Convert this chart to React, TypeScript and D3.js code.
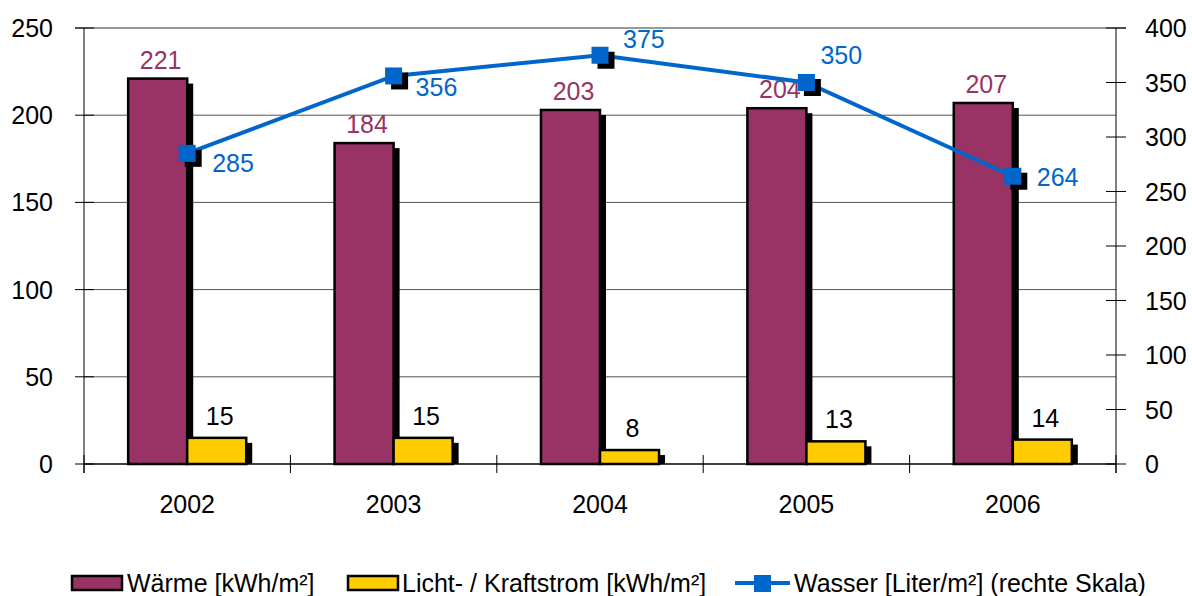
import React from "react";
import * as d3 from "d3";

const years = ["2002", "2003", "2004", "2005", "2006"];
const waerme = [221, 184, 203, 204, 207];
const licht = [15, 15, 8, 13, 14];
const wasser = [285, 356, 375, 350, 264];
const leftTicks = [0, 50, 100, 150, 200, 250];
const rightTicks = [0, 50, 100, 150, 200, 250, 300, 350, 400];
const legendLabels = ["Wärme [kWh/m²]", "Licht- / Kraftstrom [kWh/m²]", "Wasser [Liter/m²] (rechte Skala)"];
// label placement for water values (style only)
const wasserLabelOffsets: [number, number][] = [
  [25, 19],
  [22, 20],
  [23, -7],
  [14, -19],
  [24, 10],
];

const W = 1192;
const H = 596;
const L = 84, R = 1116, T = 28, B = 464;
const FONT = "'Liberation Sans', Arial, sans-serif";
const FS = 25;
const C_W = "#993366";
const C_L = "#FFCC00";
const C_B = "#0066CC";

export default function App() {
  const x = d3.scaleBand<string>().domain(years).range([L, R]).padding(0);
  const yL = d3.scaleLinear().domain([0, 250]).range([B, T]);
  const yR = d3.scaleLinear().domain([0, 400]).range([B, T]);
  const bw = x.bandwidth() * 0.286;
  const cx = (d: string) => (x(d) as number) + x.bandwidth() / 2;
  const sh = { dx: 6, dy: 5 };

  const line = d3
    .line<number>()
    .x((_, i) => cx(years[i]))
    .y((v) => yR(v));

  const bars = (vals: number[], side: number, color: string) =>
    vals.map((v, i) => {
      const x0 = side === 0 ? cx(years[i]) - bw : cx(years[i]);
      const y0 = yL(v);
      return (
        <g key={i}>
          <rect x={x0 + sh.dx} y={y0 + sh.dy} width={bw} height={Math.max(0, B - y0 - sh.dy)} fill="#000" />
          <rect x={x0} y={y0} width={bw} height={B - y0} fill={color} stroke="#000" strokeWidth={2.5} />
        </g>
      );
    });

  return (
    <svg width={W} height={H} style={{ position: "absolute", left: 0, top: 0, background: "#fff" }} fontFamily={FONT}>
      {/* gridlines */}
      {leftTicks.filter((t) => t > 0 && t < 250).map((t) => (
        <line key={t} x1={L} x2={R} y1={yL(t)} y2={yL(t)} stroke="#555" strokeWidth={1} />
      ))}
      <line x1={L - 9} x2={R + 10} y1={yL(250)} y2={yL(250)} stroke="#999" strokeWidth={2} />
      {/* left axis */}
      <line x1={L} x2={L} y1={T} y2={B + 9} stroke="#000" strokeWidth={1} />
      {leftTicks.map((t) => (
        <g key={t}>
          <line x1={L - 9} x2={L + 10} y1={yL(t)} y2={yL(t)} stroke="#000" strokeWidth={1} />
          <text x={53} y={yL(t)} textAnchor="end" dominantBaseline="central" fontSize={FS} fill="#000">
            {t}
          </text>
        </g>
      ))}
      {/* right axis */}
      <line x1={R} x2={R} y1={T} y2={B + 9} stroke="#000" strokeWidth={1} />
      {rightTicks.map((t) => (
        <g key={t}>
          <line x1={R - 10} x2={R + 10} y1={yR(t)} y2={yR(t)} stroke="#000" strokeWidth={1} />
          <text x={1145} y={yR(t)} textAnchor="start" dominantBaseline="central" fontSize={FS} fill="#000">
            {t}
          </text>
        </g>
      ))}
      {/* bars */}
      {bars(waerme, 0, C_W)}
      {bars(licht, 1, C_L)}
      {/* bottom axis */}
      <line x1={L} x2={R} y1={B} y2={B} stroke="#000" strokeWidth={1.5} />
      {years.map((yr) => (
        <line key={yr} x1={x(yr) as number} x2={x(yr) as number} y1={B - 9} y2={B + 9} stroke="#000" strokeWidth={1} />
      ))}
      <line x1={R} x2={R} y1={B - 9} y2={B + 9} stroke="#000" strokeWidth={1} />
      {years.map((yr) => (
        <text key={yr} x={cx(yr)} y={513} textAnchor="middle" fontSize={FS} fill="#000">
          {yr}
        </text>
      ))}
      {/* bar labels */}
      {waerme.map((v, i) => (
        <text key={"w" + i} x={cx(years[i]) - bw / 2 + 3} y={yL(v) - 10} textAnchor="middle" fontSize={FS} fill={C_W}>
          {v}
        </text>
      ))}
      {licht.map((v, i) => (
        <text key={"l" + i} x={cx(years[i]) + bw / 2 + 3} y={yL(v) - 13} textAnchor="middle" fontSize={FS} fill="#000">
          {v}
        </text>
      ))}
      {/* line */}
      <path d={line(wasser) || ""} fill="none" stroke={C_B} strokeWidth={4} />
      {wasser.map((v, i) => (
        <rect key={"s" + i} x={cx(years[i]) - 8.5 + 6} y={yR(v) - 8.5 + 5} width={17} height={17} fill="#000" />
      ))}
      {wasser.map((v, i) => (
        <rect key={"m" + i} x={cx(years[i]) - 8.5} y={yR(v) - 8.5} width={17} height={17} fill={C_B} />
      ))}
      {wasser.map((v, i) => (
        <text
          key={"t" + i}
          x={cx(years[i]) + wasserLabelOffsets[i][0]}
          y={yR(v) + wasserLabelOffsets[i][1]}
          textAnchor="start"
          fontSize={FS}
          fill={C_B}
        >
          {v}
        </text>
      ))}
      {/* legend */}
      <g>
        <rect x={72} y={576} width={50} height={14} fill={C_W} stroke="#000" strokeWidth={2.5} />
        <text x={127} y={592} fontSize={FS} fill="#000">{legendLabels[0]}</text>
        <rect x={348} y={576} width={50} height={14} fill={C_L} stroke="#000" strokeWidth={2.5} />
        <text x={402} y={592} fontSize={FS} fill="#000">{legendLabels[1]}</text>
        <line x1={735} x2={790} y1={583} y2={583} stroke={C_B} strokeWidth={4} />
        <rect x={754} y={575} width={17} height={17} fill={C_B} />
        <text x={794} y={592} fontSize={FS} fill="#000">{legendLabels[2]}</text>
      </g>
    </svg>
  );
}
